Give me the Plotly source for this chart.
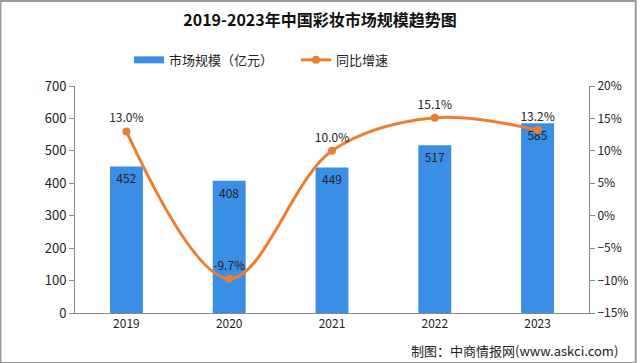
import plotly.graph_objects as go

years = ["2019", "2020", "2021", "2022", "2023"]
market_size = [452, 408, 449, 517, 585]
growth = [13.0, -9.7, 10.0, 15.1, 13.2]
growth_labels = ["13.0%", "-9.7%", "10.0%", "15.1%", "13.2%"]

FONT = "Noto Sans CJK SC"
BLUE = "#3A8EE6"
ORANGE = "#ED7D31"

fig = go.Figure()
fig.add_trace(go.Bar(
    x=years, y=market_size, name="市场规模（亿元）", showlegend=False,
    marker=dict(color=BLUE, line=dict(width=0)),
    width=0.32,
    text=[str(v) for v in market_size], textposition="inside",
    insidetextanchor="end", textfont=dict(color="#222222", size=12, family=FONT),
    cliponaxis=False,
))
# legend entry for bars (wide rectangular swatch)
fig.add_trace(go.Scatter(
    x=[None], y=[None], name="市场规模（亿元）", mode="lines",
    line=dict(color=BLUE, width=7), showlegend=True,
))
fig.add_trace(go.Scatter(
    x=years, y=growth, name="同比增速", yaxis="y2",
    mode="lines+markers+text",
    line=dict(color=ORANGE, width=3, shape="spline", smoothing=1.0),
    marker=dict(color=ORANGE, size=8),
    text=growth_labels, textposition="top center",
    textfont=dict(color="#222222", size=12, family=FONT),
    cliponaxis=False,
))

fig.update_layout(
    width=640, height=363,
    margin=dict(l=75, r=48, t=86, b=50),
    paper_bgcolor="white", plot_bgcolor="white",
    font=dict(family=FONT, size=12, color="#333333"),
    title=dict(text="<b>2019-2023年中国彩妆市场规模趋势图</b>", x=0.5, xanchor="center",
               y=0.945, yanchor="middle", font=dict(size=16, color="#111111", family=FONT)),
    legend=dict(orientation="h", x=0.105, xanchor="left", y=1.115, yanchor="middle",
                font=dict(size=13, color="#222222"), entrywidth=122, entrywidthmode="pixels",
                traceorder="normal", itemwidth=30),
    bargap=0.6,
    showlegend=True,
    xaxis=dict(showline=True, linecolor="#888888", ticks="", tickfont=dict(size=12, color="#222222"),
               showgrid=False),
    yaxis=dict(range=[0, 700], dtick=100, showline=True, linecolor="#888888", ticks="outside",
               ticklen=5, tickcolor="#888888", showgrid=False, zeroline=False,
               tickfont=dict(size=13, color="#222222")),
    yaxis2=dict(range=[-15, 20], dtick=5, overlaying="y", side="right", showline=True,
                linecolor="#888888", ticks="outside", ticklen=5, tickcolor="#888888",
                showgrid=False, zeroline=False, ticksuffix="%",
                tickfont=dict(size=12, color="#222222")),
    shapes=[dict(type="rect", xref="paper", yref="paper", x0=-75/517, x1=1+47/517,
                 y0=-50/227, y1=1+85/227, line=dict(color="#999999", width=2))],
    annotations=[dict(text="制图：中商情报网(www.askci.com)", xref="paper", yref="paper",
                      x=1.06, y=-0.165, xanchor="right", yanchor="middle", showarrow=False,
                      font=dict(size=13, color="#222222"))],
)

fig.write_html("out.html")
